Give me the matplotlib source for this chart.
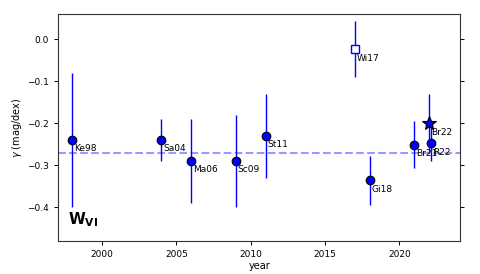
import matplotlib
matplotlib.use("Agg")
import matplotlib.pyplot as plt

labels = ["Ke98", "Sa04", "Ma06", "Sc09", "St11", "Gi18", "Br21", "R22"]
years = [1998, 2004, 2006, 2009, 2011, 2018, 2021, 2022.15]
gamma = [-0.24, -0.24, -0.29, -0.29, -0.23, -0.336, -0.251, -0.248]
gerr = [0.16, 0.05, 0.10, 0.11, 0.10, 0.058, 0.057, 0.042]

sq_label = "Wi17"
sq_year = 2017
sq_gamma = -0.024
sq_err = 0.067

star_label = "Br22"
star_year = 2022.0
star_gamma = -0.20
star_err = 0.07

mean_gamma = -0.271

fig = plt.figure(figsize=(4.8, 2.74), dpi=100)
ax = fig.add_axes([0.121, 0.12, 0.838, 0.829])

ax.axhline(mean_gamma, color=(0.6, 0.6, 1.0), ls="--", lw=1.5, zorder=1)

ax.errorbar(years, gamma, yerr=gerr, fmt="o", color="blue", mfc="blue", mec="black",
            ms=6.2, mew=0.8, ecolor="blue", elinewidth=1.0, capsize=0, zorder=3)
ax.errorbar([sq_year], [sq_gamma], yerr=[sq_err], fmt="s", mfc="white", mec="blue",
            ms=6, mew=1.0, ecolor="blue", elinewidth=1.0, capsize=0, zorder=3)
ax.errorbar([star_year], [star_gamma], yerr=[star_err], fmt="*", mfc="blue", mec="black",
            ms=10, mew=0.8, ecolor="blue", elinewidth=1.0, capsize=0, zorder=4)

for lab, x, y in zip(labels + [sq_label, star_label], years + [sq_year, star_year],
                     gamma + [sq_gamma, star_gamma]):
    ax.annotate(lab, (x, y), xytext=(2, -9), textcoords="offset pixels",
                ha="left", va="center", fontsize=6.5)

ax.text(0.025, 0.055, r"$\mathbf{W_{VI}}$", transform=ax.transAxes, fontsize=11,
        ha="left", va="bottom")

ax.set_xlim(1997.05, 2024.1)
ax.set_ylim(-0.481, 0.06)
ax.set_yticks([0.0, -0.1, -0.2, -0.3, -0.4])
ax.set_xticks([2000, 2005, 2010, 2015, 2020])
ax.tick_params(labelsize=6.5, right=True, width=0.7, length=3)
ax.set_xlabel("year", fontsize=7, labelpad=1)
ax.set_ylabel(r"$\gamma$ (mag/dex)", fontsize=7, labelpad=2)
for s in ax.spines.values():
    s.set_linewidth(0.8)
    s.set_color("#333333")

fig.savefig("out.png", dpi=100)
